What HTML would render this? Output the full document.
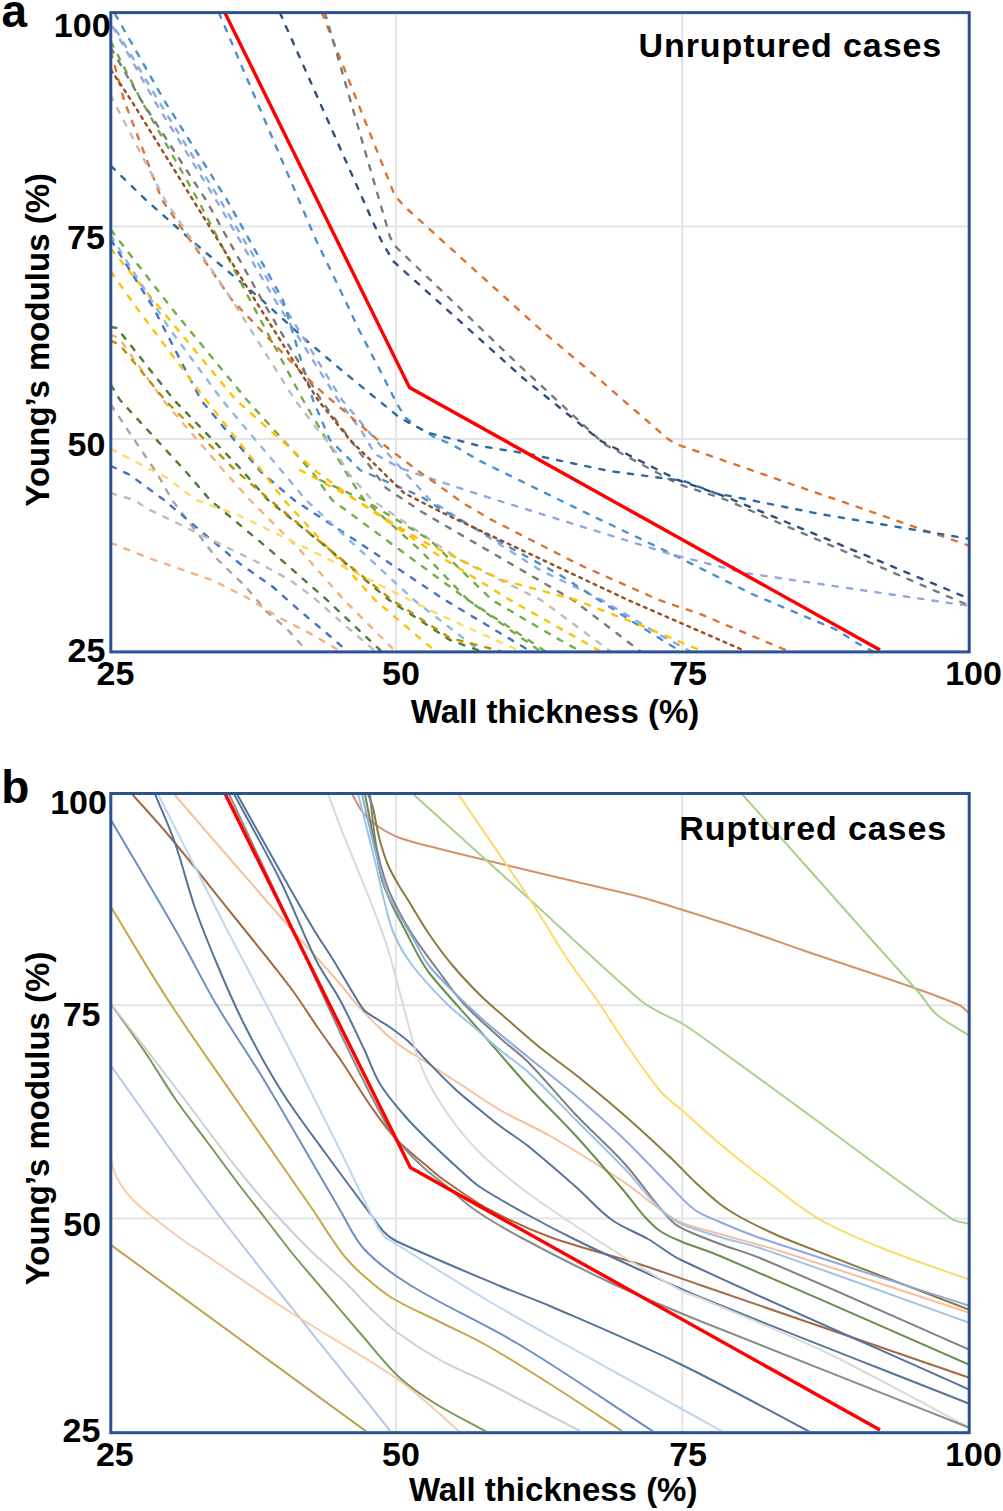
<!DOCTYPE html>
<html><head><meta charset="utf-8"><style>
html,body{margin:0;padding:0;background:#fff;width:1003px;height:1511px;overflow:hidden}
svg{display:block}
</style></head><body>
<svg width="1003" height="1511" viewBox="0 0 1003 1511">
<defs><clipPath id="ca"><rect x="112" y="13" width="857" height="638"/></clipPath><clipPath id="cb"><rect x="112" y="794" width="857" height="637"/></clipPath></defs>
<line x1="395.9" y1="12.6" x2="395.9" y2="651.9" stroke="#e4e4e4" stroke-width="2"/><line x1="682.2" y1="12.6" x2="682.2" y2="651.9" stroke="#e4e4e4" stroke-width="2"/><line x1="111" y1="226.4" x2="969" y2="226.4" stroke="#e4e4e4" stroke-width="2"/><line x1="111" y1="438.9" x2="969" y2="438.9" stroke="#e4e4e4" stroke-width="2"/><line x1="395.9" y1="793.5" x2="395.9" y2="1432.7" stroke="#e4e4e4" stroke-width="2"/><line x1="682.2" y1="793.5" x2="682.2" y2="1432.7" stroke="#e4e4e4" stroke-width="2"/><line x1="111" y1="1005.3" x2="969" y2="1005.3" stroke="#e4e4e4" stroke-width="2"/><line x1="111" y1="1218.4" x2="969" y2="1218.4" stroke="#e4e4e4" stroke-width="2"/><g clip-path="url(#ca)"><polyline points="322,13 395,196 405,207 541,330 600,380 668,439 676,444 820,494 970,546" fill="none" stroke="#dc7430" stroke-width="2.4" stroke-dasharray="5.3 9.1" stroke-linecap="round" stroke-linejoin="round"/><polyline points="325,13 390,237 395,246 520,366 604,444 678,484 724,499 970,606" fill="none" stroke="#7a7a7a" stroke-width="2.4" stroke-dasharray="5.3 9.1" stroke-linecap="round" stroke-linejoin="round"/><polyline points="280,13 381,240 393,261 523,378 601,441 678,480 724,496 970,599" fill="none" stroke="#2f4e7e" stroke-width="2.4" stroke-dasharray="5.3 9.1" stroke-linecap="round" stroke-linejoin="round"/><polyline points="219,13 316,240 345,300 359,330 372,355 384,378 397,404 406,418 417,427 436,438 451,444 480,461 580,510 670,553 752,594 837,630 857,643 874,652" fill="none" stroke="#4a8fd0" stroke-width="2.4" stroke-dasharray="5.3 9.1" stroke-linecap="round" stroke-linejoin="round"/><polyline points="111,166 146,200 191,240 262,300 307,341 345,373 378,400 400,418 429,433 480,446 529,454 609,471 684,481 715,493 820,514 970,539" fill="none" stroke="#2e6aa0" stroke-width="2.4" stroke-dasharray="5.3 9.1" stroke-linecap="round" stroke-linejoin="round"/><polyline points="113,27 154,100 216,200 275,300 338,400 361,430 375,454 400,468 426,477 490,498 670,554 745,573 970,606" fill="none" stroke="#8eaadc" stroke-width="2.4" stroke-dasharray="5.3 9.1" stroke-linecap="round" stroke-linejoin="round"/><polyline points="116,30 158,100 220,200 280,300 342,400 380,445 430,500 540,570 602,600 660,635 690,651" fill="none" stroke="#8eaadc" stroke-width="2.4" stroke-dasharray="5.3 9.1" stroke-linecap="round" stroke-linejoin="round"/><polyline points="115,14 164,100 227,200 283,300 313,400 330,440 360,470 420,496 444,511 560,575 630,620 680,651" fill="none" stroke="#4a8fd0" stroke-width="2.4" stroke-dasharray="5.3 9.1" stroke-linecap="round" stroke-linejoin="round"/><polyline points="111,42 141,100 198,200 250,300 303,400 331,447 347,474 364,500 420,550 468,600 540,651" fill="none" stroke="#70ad47" stroke-width="2.4" stroke-dasharray="5.3 9.1" stroke-linecap="round" stroke-linejoin="round"/><polyline points="111,48 141,100 206,200 262,300 321,400 386,488 422,512 573,600 640,651" fill="none" stroke="#7a7a7a" stroke-width="2.4" stroke-dasharray="5.3 9.1" stroke-linecap="round" stroke-linejoin="round"/><polyline points="111,52 124,100 162,200 232,300 300,371 323,393 336,404 358,423 379,441 393,452 417,470 463,503 490,519 580,565 659,600 700,614 788,651" fill="none" stroke="#dc7430" stroke-width="2.4" stroke-dasharray="5.3 9.1" stroke-linecap="round" stroke-linejoin="round"/><polyline points="111,70 131,100 193,200 255,300 318,400 350,440 404,493 447,515 628,600 745,651" fill="none" stroke="#9a4c1c" stroke-width="2.4" stroke-dasharray="2.8 5.1" stroke-linecap="round" stroke-linejoin="round"/><polyline points="111,95 113,100 165,200 232,300 295,400 318,430 336,452 349,474 372,500 460,560 541,600 610,651" fill="none" stroke="#bcbcbc" stroke-width="2.4" stroke-dasharray="5.3 9.1" stroke-linecap="round" stroke-linejoin="round"/><polyline points="111,230 173,310 247,400 313,473 332,500 400,550 468,600 545,651" fill="none" stroke="#70ad47" stroke-width="2.4" stroke-dasharray="5.3 9.1" stroke-linecap="round" stroke-linejoin="round"/><polyline points="111,240 153,307 201,400 261,472 294,500 370,550 445,600 530,651" fill="none" stroke="#4472c4" stroke-width="2.4" stroke-dasharray="5.3 9.1" stroke-linecap="round" stroke-linejoin="round"/><polyline points="111,249 159,307 236,400 317,472 356,500 430,550 510,600 600,651" fill="none" stroke="#ffc000" stroke-width="2.4" stroke-dasharray="5.3 9.1" stroke-linecap="round" stroke-linejoin="round"/><polyline points="111,236 169,328 222,400 285,475 306,500 360,550 414,600 480,651" fill="none" stroke="#8ab8e2" stroke-width="2.4" stroke-dasharray="5.3 9.1" stroke-linecap="round" stroke-linejoin="round"/><polyline points="111,272 136,307 206,400 265,475 284,500 330,550 375,600 435,651" fill="none" stroke="#ffc000" stroke-width="2.4" stroke-dasharray="5.3 9.1" stroke-linecap="round" stroke-linejoin="round"/><polyline points="111,327 117,328 174,400 239,467 268,500 330,550 389,600 450,640 480,651" fill="none" stroke="#4f7a31" stroke-width="2.4" stroke-dasharray="5.3 9.1" stroke-linecap="round" stroke-linejoin="round"/><polyline points="111,335 119,338 163,400 224,471 250,500 300,550 344,600 395,651" fill="none" stroke="#f4b183" stroke-width="2.4" stroke-dasharray="5.3 9.1" stroke-linecap="round" stroke-linejoin="round"/><polyline points="111,341 119,344 165,400 235,470 270,500 330,550 392,600 450,638 500,651" fill="none" stroke="#bf9000" stroke-width="2.4" stroke-dasharray="5.3 9.1" stroke-linecap="round" stroke-linejoin="round"/><polyline points="111,385 120,400 188,474 210,500 270,550 327,600 381,651" fill="none" stroke="#4f7a31" stroke-width="2.4" stroke-dasharray="5.3 9.1" stroke-linecap="round" stroke-linejoin="round"/><polyline points="111,405 158,475 172,500 218,560 246,587 266,611 286,628 307,651" fill="none" stroke="#a5a5a5" stroke-width="2.4" stroke-dasharray="5.3 9.1" stroke-linecap="round" stroke-linejoin="round"/><polyline points="111,449 167,478 196,500 238,515 300,545 360,575 440,615 520,651" fill="none" stroke="#ffd966" stroke-width="2.4" stroke-dasharray="5.3 9.1" stroke-linecap="round" stroke-linejoin="round"/><polyline points="111,466 130,475 164,500 239,563 273,587 300,611 324,631 347,651" fill="none" stroke="#4472c4" stroke-width="2.4" stroke-dasharray="5.3 9.1" stroke-linecap="round" stroke-linejoin="round"/><polyline points="111,493 134,500 148,509 259,563 290,580 313,597 340,621 368,645 375,651" fill="none" stroke="#bcbcbc" stroke-width="2.4" stroke-dasharray="5.3 9.1" stroke-linecap="round" stroke-linejoin="round"/><polyline points="111,543 154,560 212,580 246,597 280,618 313,635 340,651" fill="none" stroke="#f4b183" stroke-width="2.4" stroke-dasharray="5.3 9.1" stroke-linecap="round" stroke-linejoin="round"/><polyline points="300,470 356,500 420,540 502,580 576,600 640,625 702,651" fill="none" stroke="#ffc000" stroke-width="2.4" stroke-dasharray="5.3 9.1" stroke-linecap="round" stroke-linejoin="round"/><polyline points="320,480 364,500 430,540 492,600 560,640 580,651" fill="none" stroke="#70ad47" stroke-width="2.4" stroke-dasharray="5.3 9.1" stroke-linecap="round" stroke-linejoin="round"/><polyline points="225,13 409.5,387.5 880,650" fill="none" stroke="#ff0000" stroke-width="3.4" stroke-linejoin="round"/></g><g clip-path="url(#cb)"><path d="M132,794 C144.7,808.3 157.8,822.3 170,837 C191.1,862.3 211.4,888.3 232,914 C251.4,938.3 271.3,962.2 290,987 C300.0,1000.2 308.6,1014.4 318,1028 C325.9,1039.4 334.2,1050.5 342,1062 C352.2,1077.2 361.5,1093.0 372,1108 C379.5,1118.7 387.0,1129.5 396,1139 C405.8,1149.3 417.2,1157.8 428,1167 C433.2,1171.5 438.4,1176.1 444,1180 C459.0,1190.4 473.9,1201.3 490,1210 C509.3,1220.4 529.4,1229.5 550,1237 C579.1,1247.6 609.5,1254.6 639,1264 C659.5,1270.6 679.7,1278.0 700,1285 C790.0,1316.0 880.0,1347.0 970,1378" fill="none" stroke="#a36a45" stroke-width="2.0" stroke-linejoin="round"/><path d="M155,794 C161.7,810.3 169.2,826.4 175,843 C182.5,864.4 187.6,886.6 195,908 C201.6,926.9 209.2,945.5 217,964 C225.8,984.9 234.7,1005.8 245,1026 C256.4,1048.5 268.5,1070.7 282,1092 C295.6,1113.4 311.1,1133.5 326,1154 C341.1,1174.8 356.6,1195.3 372,1216 C376.0,1221.3 379.4,1227.2 384,1232 C387.5,1235.6 391.5,1238.9 396,1241 C430.2,1256.9 465.2,1271.3 500,1286 C516.5,1293.0 533.5,1298.9 550,1306 C593.5,1324.9 637.3,1343.3 680,1364 C724.0,1385.3 766.7,1409.3 810,1432" fill="none" stroke="#56739b" stroke-width="2.0" stroke-linejoin="round"/><path d="M111,820 C134.0,859.3 157.4,898.4 180,938 C192.4,959.8 203.2,982.4 216,1004 C231.3,1029.8 248.5,1054.3 264,1080 C289.9,1123.0 314.4,1166.8 340,1210 C347.8,1223.1 353.6,1237.8 364,1249 C377.3,1263.2 393.4,1274.8 410,1285 C445.6,1306.9 484.2,1323.4 520,1345 C565.6,1372.5 609.3,1403.0 654,1432" fill="none" stroke="#6d8fc0" stroke-width="2.0" stroke-linejoin="round"/><path d="M158,794 C179.3,836.0 200.5,878.1 222,920 C236.5,948.1 251.4,976.0 266,1004 C277.4,1026.0 288.8,1047.9 300,1070 C313.5,1096.6 326.8,1123.3 340,1150 C351.5,1173.3 362.2,1196.9 374,1220 C376.9,1225.6 379.8,1231.4 384,1236 C387.2,1239.5 391.9,1241.5 396,1244 C426.3,1262.8 456.4,1281.7 487,1300 C507.8,1312.4 528.9,1324.2 550,1336 C599.9,1363.9 650.0,1391.3 700,1419 C707.7,1423.3 715.3,1427.7 723,1432" fill="none" stroke="#bdd7ee" stroke-width="2.0" stroke-linejoin="round"/><path d="M174,794 C212.7,838.7 251.1,883.5 290,928 C299.5,938.8 309.4,949.3 319,960 C326.1,967.9 333.1,975.9 340,984 C346.8,991.9 352.8,1000.4 360,1008 C370.9,1019.5 381.7,1031.0 394,1041 C404.8,1049.8 417.3,1056.4 429,1064 C440.3,1071.4 451.7,1078.7 463,1086 C475.3,1094.0 487.2,1102.7 500,1110 C516.9,1119.7 535.1,1127.2 552,1137 C576.5,1151.2 600.5,1166.3 624,1182 C641.8,1193.9 657.1,1209.8 676,1220 C689.5,1227.3 705.3,1229.6 720,1234 C739.9,1239.9 760.2,1244.7 780,1251 C843.5,1271.1 906.7,1292.3 970,1313" fill="none" stroke="#f6c09c" stroke-width="2.0" stroke-linejoin="round"/><path d="M111,907 C130.0,938.0 148.2,969.5 168,1000 C191.2,1035.6 215.9,1070.1 240,1105 C264.2,1140.1 288.9,1174.9 313,1210 C318.9,1218.5 324.2,1227.4 330,1236 C334.8,1243.1 339.4,1250.5 345,1257 C351.1,1264.2 357.9,1270.8 365,1277 C373.6,1284.5 382.2,1292.1 392,1298 C407.3,1307.2 424.0,1314.0 440,1322 C455.3,1329.7 471.1,1336.6 486,1345 C507.8,1357.3 528.9,1370.6 550,1384 C574.2,1399.3 598.0,1415.3 622,1431" fill="none" stroke="#c8a64a" stroke-width="2.0" stroke-linejoin="round"/><path d="M111,1004 C122.3,1020.0 134.0,1035.8 145,1052 C155.7,1067.8 165.2,1084.3 176,1100 C186.2,1114.7 197.3,1128.7 208,1143 C218.7,1157.3 229.2,1171.8 240,1186 C248.2,1196.8 256.7,1207.3 265,1218 C274.0,1229.6 282.8,1241.5 292,1253 C300.8,1263.9 310.0,1274.4 319,1285 C332.6,1301.0 346.2,1317.1 360,1333 C373.2,1348.1 385.3,1364.3 400,1378 C410.8,1388.1 423.4,1396.2 436,1404 C452.5,1414.2 470.0,1422.7 487,1432" fill="none" stroke="#78995a" stroke-width="2.0" stroke-linejoin="round"/><path d="M111,1004 C114.7,1008.7 118.4,1013.3 122,1018 C143.0,1045.3 164.1,1072.6 185,1100 C194.1,1111.9 202.9,1124.1 212,1136 C221.2,1148.1 230.4,1160.2 240,1172 C250.4,1184.9 260.9,1197.7 272,1210 C284.3,1223.7 296.9,1237.1 310,1250 C321.3,1261.1 333.6,1271.0 345,1282 C354.3,1291.0 362.7,1301.0 372,1310 C380.3,1318.0 388.7,1326.1 398,1333 C411.4,1342.9 425.5,1351.9 440,1360 C454.8,1368.3 470.8,1374.4 486,1382 C500.8,1389.4 515.3,1397.4 530,1405 C546.7,1413.7 563.3,1422.3 580,1431" fill="none" stroke="#cfcfcf" stroke-width="2.0" stroke-linejoin="round"/><path d="M111,1066 C145.7,1114.0 179.0,1163.0 215,1210 C272.4,1285.0 332.3,1358.0 391,1432" fill="none" stroke="#b4c7e7" stroke-width="2.0" stroke-linejoin="round"/><path d="M111,1156 C111.7,1160.0 111.7,1164.2 113,1168 C115.0,1173.9 117.6,1179.7 121,1185 C124.7,1190.8 129.1,1196.1 134,1201 C140.2,1207.2 147.2,1212.5 154,1218 C162.5,1224.9 171.1,1231.7 180,1238 C190.8,1245.7 202.0,1252.6 213,1260 C238.7,1277.3 264.0,1295.2 290,1312 C326.3,1335.5 364.6,1356.0 400,1381 C421.4,1396.1 440.0,1415.0 460,1432" fill="none" stroke="#f8cbad" stroke-width="2.0" stroke-linejoin="round"/><path d="M111,1245 C196.3,1307.3 281.7,1369.7 367,1432" fill="none" stroke="#bfa050" stroke-width="2.0" stroke-linejoin="round"/><path d="M237,794 C249.7,816.7 262.2,839.4 275,862 C287.9,884.7 300.7,907.5 314,930 C319.7,939.5 326.2,948.6 332,958 C339.2,969.6 345.9,981.4 353,993 C356.5,998.7 359.4,1005.0 364,1010 C367.6,1013.9 372.6,1016.1 377,1019 C381.6,1022.1 386.5,1024.8 391,1028 C397.2,1032.4 403.4,1036.9 409,1042 C415.1,1047.6 420.2,1054.1 426,1060 C435.6,1069.8 445.0,1079.7 455,1089 C463.0,1096.4 471.6,1103.1 480,1110 C486.6,1115.4 493.2,1120.9 500,1126 C509.2,1132.9 519.1,1138.8 528,1146 C544.4,1159.2 560.2,1173.1 576,1187 C588.2,1197.8 598.8,1210.5 612,1220 C623.0,1227.9 636.3,1232.2 648,1239 C659.3,1245.5 669.2,1254.5 681,1260 C776.6,1304.8 873.7,1346.7 970,1390" fill="none" stroke="#56739b" stroke-width="2.0" stroke-linejoin="round"/><path d="M234,794 C249.3,822.7 265.6,850.9 280,880 C293.0,906.2 302.9,933.8 316,960 C323.0,973.9 332.6,986.3 340,1000 C348.6,1016.0 356.2,1032.6 364,1049 C369.5,1060.6 373.4,1073.0 380,1084 C386.8,1095.2 395.5,1105.1 404,1115 C411.5,1123.8 419.8,1131.9 428,1140 C438.4,1150.2 449.2,1160.2 460,1170 C466.5,1175.9 472.7,1182.2 480,1187 C495.4,1197.2 511.8,1206.0 528,1215 C543.8,1223.7 559.8,1232.0 576,1240 C592.8,1248.3 609.9,1256.2 627,1264 C651.3,1275.2 675.3,1286.9 700,1297 C789.6,1333.6 880.0,1368.3 970,1404" fill="none" stroke="#56739b" stroke-width="2.0" stroke-linejoin="round"/><path d="M328,794 C332.7,806.3 337.2,818.7 342,831 C346.9,843.4 352.0,855.7 357,868 C361.3,878.7 365.8,889.3 370,900 C375.5,914.3 381.2,928.5 386,943 C389.8,954.5 392.8,966.3 396,978 C399.1,989.3 401.9,1000.7 405,1012 C408.9,1026.4 412.1,1041.0 417,1055 C421.1,1066.7 426.0,1078.1 432,1089 C438.7,1101.2 446.6,1112.8 455,1124 C462.7,1134.2 470.9,1144.1 480,1153 C491.3,1164.1 503.6,1174.2 516,1184 C527.6,1193.2 539.8,1201.6 552,1210 C563.8,1218.2 575.9,1226.1 588,1234 C599.9,1241.8 611.8,1249.6 624,1257 C642.5,1268.3 660.9,1279.7 680,1290 C686.3,1293.4 693.4,1295.2 700,1298 C741.7,1315.8 784.1,1332.3 825,1352 C874.2,1375.7 921.7,1402.7 970,1428" fill="none" stroke="#d9d9d9" stroke-width="2.0" stroke-linejoin="round"/><path d="M229,794 C252.7,844.3 276.5,894.6 300,945 C316.1,979.6 331.4,1014.6 348,1049 C361.0,1076.0 374.2,1102.9 389,1129 C393.0,1136.0 398.6,1142.0 404,1148 C410.3,1155.0 417.0,1161.7 424,1168 C430.7,1174.0 438.0,1179.3 445,1185 C455.0,1193.3 464.3,1202.6 475,1210 C489.4,1220.0 504.6,1228.7 520,1237 C549.3,1252.7 578.9,1267.9 609,1282 C638.9,1296.0 669.4,1308.6 700,1321 C789.7,1357.3 880.0,1392.3 970,1428" fill="none" stroke="#8c8c8c" stroke-width="2.0" stroke-linejoin="round"/><path d="M352,794 C356.0,800.7 359.1,808.0 364,814 C368.2,819.1 373.5,823.3 379,827 C385.6,831.4 392.6,835.3 400,838 C413.0,842.7 426.6,845.5 440,849 C453.6,852.5 467.3,855.7 481,859 C507.3,865.4 533.7,871.7 560,878 C586.7,884.4 613.5,890.1 640,897 C654.5,900.8 668.7,905.5 683,910 C703.7,916.5 724.4,923.1 745,930 C765.1,936.8 784.9,944.1 805,951 C837.6,962.1 870.5,972.6 903,984 C921.8,990.6 940.8,996.9 959,1005 C963.3,1006.9 966.3,1011.0 970,1014" fill="none" stroke="#d4926a" stroke-width="2.0" stroke-linejoin="round"/><path d="M413,794 C450.7,828.0 488.4,861.9 526,896 C564.1,930.6 601.2,966.2 640,1000 C645.6,1004.9 652.5,1008.3 659,1012 C666.8,1016.4 675.4,1019.3 683,1024 C695.8,1032.0 707.8,1041.2 720,1050 C748.4,1070.5 776.7,1091.4 805,1112 C854.0,1147.7 901.9,1185.0 952,1219 C957.2,1222.5 964.0,1222.3 970,1224" fill="none" stroke="#a9d18e" stroke-width="2.0" stroke-linejoin="round"/><path d="M742,794 C784.7,842.0 827.3,890.0 870,938 C886.6,956.7 903.6,975.1 920,994 C925.6,1000.4 929.5,1008.5 936,1014 C946.3,1022.7 958.7,1028.7 970,1036" fill="none" stroke="#a9d18e" stroke-width="2.0" stroke-linejoin="round"/><path d="M458,794 C481.7,828.7 505.8,863.0 529,898 C542.5,918.4 554.5,939.7 568,960 C577.1,973.7 587.6,986.5 597,1000 C606.3,1013.5 614.8,1027.4 624,1041 C630.8,1051.1 637.8,1061.1 645,1071 C650.5,1078.5 655.6,1086.3 662,1093 C669.0,1100.4 677.4,1106.3 685,1113 C696.7,1123.3 708.1,1134.0 720,1144 C733.1,1155.0 746.4,1165.7 760,1176 C779.4,1190.7 798.0,1206.6 819,1219 C838.9,1230.7 860.6,1239.3 882,1248 C910.9,1259.7 940.7,1269.3 970,1280" fill="none" stroke="#ffd966" stroke-width="2.0" stroke-linejoin="round"/><path d="M368,794 C369.7,798.7 371.7,803.2 373,808 C374.4,812.9 374.9,818.0 376,823 C377.3,829.0 378.3,835.1 380,841 C382.3,849.1 384.7,857.2 388,865 C390.8,871.6 394.4,877.8 398,884 C401.1,889.5 404.7,894.7 408,900 C415.0,911.3 421.5,923.0 429,934 C436.5,945.0 444.4,955.8 453,966 C461.5,976.1 470.7,985.7 480,995 C486.3,1001.3 493.3,1007.1 500,1013 C512.6,1024.1 525.0,1035.4 538,1046 C550.3,1056.1 563.6,1065.0 576,1075 C592.2,1088.0 608.3,1101.3 624,1115 C640.0,1129.0 655.6,1143.4 671,1158 C679.2,1165.8 686.8,1174.3 695,1182 C703.1,1189.6 711.2,1197.2 720,1204 C726.3,1208.9 733.1,1213.1 740,1217 C749.8,1222.5 759.9,1227.3 770,1232 C778.5,1236.0 787.2,1239.6 796,1243 C853.9,1265.6 912.0,1287.7 970,1310" fill="none" stroke="#8c7a3f" stroke-width="2.0" stroke-linejoin="round"/><path d="M370,794 C371.0,803.7 371.8,813.4 373,823 C374.1,832.0 375.1,841.1 377,850 C379.1,860.1 381.8,870.1 385,880 C387.2,886.8 389.8,893.6 393,900 C398.8,911.6 405.0,923.1 412,934 C419.7,946.1 428.5,957.5 437,969 C445.5,980.5 453.4,992.5 463,1003 C474.4,1015.5 487.4,1026.6 500,1038 C509.1,1046.3 519.4,1053.3 528,1062 C544.7,1079.0 559.6,1097.7 576,1115 C591.6,1131.4 608.8,1146.2 624,1163 C636.9,1177.3 647.7,1193.3 660,1208 C664.7,1213.6 669.3,1219.4 675,1224 C679.4,1227.5 684.8,1229.7 690,1232 C699.8,1236.4 709.9,1240.2 720,1244 C733.2,1248.9 747.0,1252.5 760,1258 C830.4,1287.8 900.0,1319.3 970,1350" fill="none" stroke="#808080" stroke-width="2.0" stroke-linejoin="round"/><path d="M365,794 C366.7,802.7 368.3,811.3 370,820 C372.0,830.0 374.0,840.0 376,850 C378.0,860.0 379.2,870.2 382,880 C384.5,888.6 388.2,896.8 392,905 C395.9,913.5 400.7,921.7 405,930 C409.3,938.3 413.4,946.8 418,955 C421.7,961.5 425.3,968.2 430,974 C446.0,993.6 463.4,1012.0 480,1031 C496.0,1049.3 511.6,1068.0 528,1086 C543.6,1103.1 560.4,1118.9 576,1136 C592.4,1154.0 608.2,1172.5 624,1191 C631.2,1199.5 637.5,1208.7 645,1217 C649.6,1222.1 654.4,1227.1 660,1231 C666.1,1235.2 673.1,1238.1 680,1241 C693.1,1246.5 706.9,1250.4 720,1256 C803.6,1291.7 886.7,1328.7 970,1365" fill="none" stroke="#6b8e4e" stroke-width="2.0" stroke-linejoin="round"/><path d="M362,794 C364.7,805.7 367.2,817.4 370,829 C372.9,841.0 375.7,853.1 379,865 C381.7,875.1 384.0,885.3 388,895 C391.1,902.5 396.0,909.0 400,916 C404.6,924.0 409.3,932.0 414,940 C419.3,949.0 423.2,959.1 430,967 C445.3,984.9 462.6,1001.1 480,1017 C495.3,1031.1 511.9,1043.8 528,1057 C543.9,1070.1 560.3,1082.6 576,1096 C592.3,1110.0 608.5,1124.1 624,1139 C640.2,1154.5 655.2,1171.2 671,1187 C678.8,1194.8 686.0,1203.6 695,1210 C702.5,1215.4 711.5,1218.3 720,1222 C733.2,1227.7 746.4,1233.4 760,1238 C829.7,1261.4 900.0,1283.3 970,1306" fill="none" stroke="#8faadc" stroke-width="2.0" stroke-linejoin="round"/><path d="M358,794 C361.0,805.7 364.0,817.3 367,829 C370.0,841.0 373.1,853.0 376,865 C378.8,876.6 381.0,888.4 384,900 C387.0,911.4 389.3,923.2 394,934 C398.7,945.0 404.8,955.5 412,965 C422.2,978.6 434.0,991.0 446,1003 C455.0,1012.0 465.4,1019.6 475,1028 C483.4,1035.3 491.5,1042.9 500,1050 C509.1,1057.6 519.3,1064.0 528,1072 C544.6,1087.3 560.0,1104.0 576,1120 C592.0,1136.0 608.3,1151.8 624,1168 C639.9,1184.4 652.4,1204.6 671,1218 C685.2,1228.2 703.4,1231.4 720,1237 C733.1,1241.4 746.9,1243.5 760,1248 C830.3,1272.2 900.0,1298.0 970,1323" fill="none" stroke="#9dc3e6" stroke-width="2.0" stroke-linejoin="round"/><polyline points="225,793.5 410.3,1167.5 880,1430" fill="none" stroke="#ff0000" stroke-width="3.4" stroke-linejoin="round"/></g><rect x="110.8" y="12.6" width="858.4" height="639.3" fill="none" stroke="#2c5193" stroke-width="3"/><rect x="110.8" y="793.5" width="858.4" height="639.2" fill="none" stroke="#2c5193" stroke-width="3"/>
<g font-family='"Liberation Sans", sans-serif' font-weight="bold" fill="#000"><text x="1.5" y="26.6" font-size="46" text-anchor="start">a</text><text x="1.2" y="803.0" font-size="46" text-anchor="start">b</text><text x="110.6" y="37.4" font-size="34" text-anchor="end">100</text><text x="104.9" y="249.2" font-size="34" text-anchor="end">75</text><text x="105.4" y="455.9" font-size="34" text-anchor="end">50</text><text x="105.4" y="662.3" font-size="34" text-anchor="end">25</text><text x="115.4" y="685.3" font-size="34" text-anchor="middle">25</text><text x="401.0" y="685.4" font-size="34" text-anchor="middle">50</text><text x="688.1" y="685.4" font-size="34" text-anchor="middle">75</text><text x="973.5" y="685.0" font-size="34" text-anchor="middle">100</text><text x="555.0" y="722.6" font-size="33" text-anchor="middle">Wall thickness (%)</text><text x="49.2" y="339.8" font-size="33" text-anchor="middle" transform="rotate(-90 49.2 339.8)">Young&#8217;s modulus (%)</text><text x="942.1" y="57.2" font-size="34" text-anchor="end" letter-spacing="0.9">Unruptured cases</text><text x="106.9" y="814.1" font-size="34" text-anchor="end">100</text><text x="100.5" y="1026.0" font-size="34" text-anchor="end">75</text><text x="101.2" y="1236.3" font-size="34" text-anchor="end">50</text><text x="100.4" y="1441.9" font-size="34" text-anchor="end">25</text><text x="114.8" y="1466.0" font-size="34" text-anchor="middle">25</text><text x="401.0" y="1466.0" font-size="34" text-anchor="middle">50</text><text x="688.1" y="1466.0" font-size="34" text-anchor="middle">75</text><text x="973.5" y="1466.0" font-size="34" text-anchor="middle">100</text><text x="553.2" y="1500.6" font-size="33" text-anchor="middle">Wall thickness (%)</text><text x="48.7" y="1118.4" font-size="33" text-anchor="middle" transform="rotate(-90 48.7 1118.4)">Young&#8217;s modulus (%)</text><text x="947.0" y="840.2" font-size="34" text-anchor="end" letter-spacing="0.9">Ruptured cases</text></g>
</svg>
</body></html>
